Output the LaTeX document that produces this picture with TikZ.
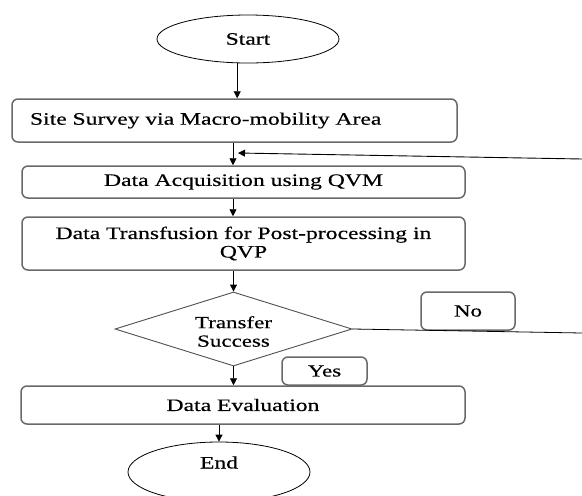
\documentclass[tikz,border=0pt]{standalone}
\usepackage{fontspec}
\setmainfont{Liberation Serif}[FakeStretch=1.35, FakeBold=0.4]
\usetikzlibrary{shapes.geometric,arrows.meta}
\definecolor{boxgray}{RGB}{105,105,105}
\definecolor{diagray}{RGB}{80,80,80}
\begin{document}
\begin{tikzpicture}[x=1pt,y=-1pt,
  every node/.style={font=\fontsize{17.5}{18.5}\selectfont, text=black},
  procbox/.style={draw=boxgray, line width=1.5pt, rounded corners=6pt, inner sep=0pt},
  terminal/.style={ellipse, draw=black, line width=0.8pt, minimum width=182pt, inner sep=0pt},
  arr/.style={draw=black, line width=0.9pt, -{Triangle[length=7pt,width=7pt]}},
  plain/.style={draw=black, line width=0.8pt}]
  \useasboundingbox (0,0) rectangle (582,496);
  \clip (0,0) rectangle (582,496);
  \fill[white] (0,0) rectangle (582,496);

  % process column
  \node[terminal, minimum height=48pt] (start) at (248,39) {Start};
  \node[procbox, minimum width=445pt, minimum height=43pt, text width=409pt, align=left]
    (site) at (234.5,120.5) {Site Survey via Macro-mobility Area};
  \node[procbox, minimum width=443pt, minimum height=32pt] (acq) at (243.5,182) {Data Acquisition using QVM};
  \node[procbox, minimum width=443pt, minimum height=53pt, align=center]
    (trans) at (243.5,243.5) {Data Transfusion for Post-processing in\\QVP};
  \node[diamond, draw=diagray, line width=0.9pt, minimum width=237pt, minimum height=74pt, inner sep=0pt]
    (dec) at (233.5,329) {};
  \node[align=center, font=\fontsize{17}{18.5}\selectfont] (dectext) at (233.5,331.5) {Transfer\\Success};
  \node[procbox, minimum width=94pt, minimum height=38pt, font=\fontsize{17}{18.5}\selectfont] (no) at (468,311) {No};
  \node[procbox, minimum width=85pt, minimum height=28pt, font=\fontsize{17}{18.5}\selectfont] (yes) at (324.5,371) {Yes};
  \node[procbox, minimum width=444pt, minimum height=38pt] (eval) at (243,405) {Data Evaluation};
  \node[terminal, minimum height=60pt, text height=12pt, text depth=19pt] (end) at (219,472) {End};

  % connectors
  \coordinate (colA) at (233,0);
  \coordinate (fbin) at (582,159);
  \coordinate (fbend) at (238,153);
  \coordinate (noout) at (582,333);

  \draw[arr] (start.-114.6) -- (start.-114.6 |- site.north);
  \draw[arr] (site.south -| colA) -- (acq.north -| colA);
  \draw[arr] (fbin) -- (fbend);
  \draw[arr] (acq.south -| colA) -- (trans.north -| colA);
  \draw[arr] (trans.south -| dec.north) -- (dec.north);
  \draw[arr] (dec.south) -- (eval.north -| dec.south);
  \draw[arr] (eval.south -| end.north) -- (end.north);
  \draw[plain] (dec.east) -- (noout);
\end{tikzpicture}
\end{document}
